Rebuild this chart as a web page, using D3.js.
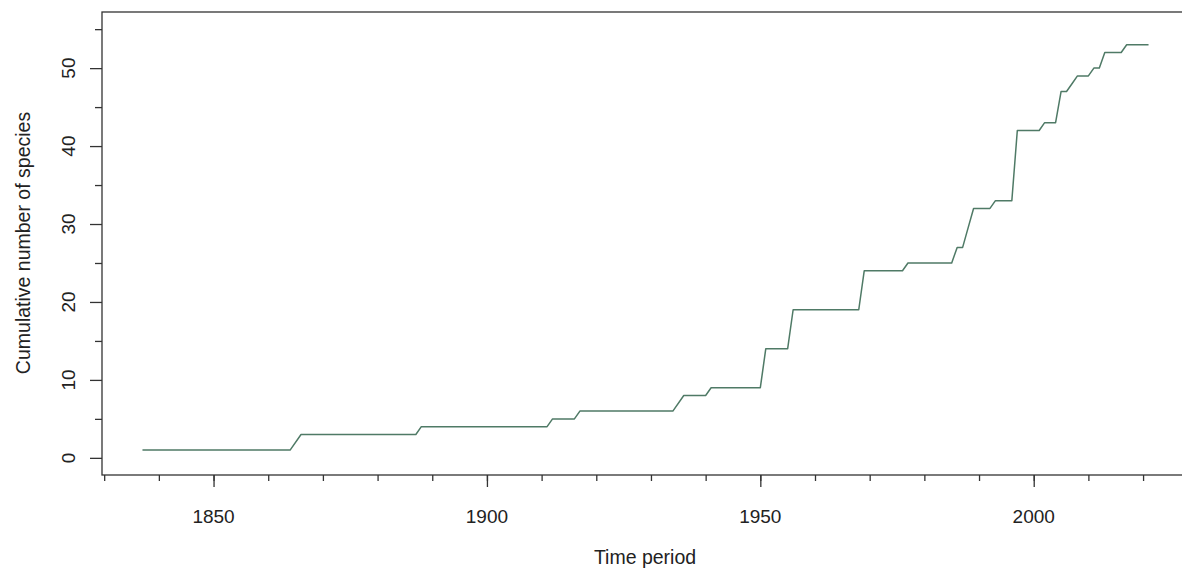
<!DOCTYPE html>
<html>
<head>
<meta charset="utf-8">
<script src="https://cdn.jsdelivr.net/npm/d3@7"></script>
<style>
  html, body { margin: 0; padding: 0; background: #fff; }
  svg { display: block; }
  text { font-family: "Liberation Sans", Arial, sans-serif; fill: #222; }
</style>
</head>
<body>
<svg id="chart" width="1182" height="569"></svg>
<script>
// Vertices of the cumulative curve (year, cumulative species)
const years  = [1837,1864,1866,1887,1888,1911,1912,1916,1917,1934,1936,1940,1941,1950,1951,1955,1956,1968,1969,1976,1977,1985,1986,1987,1988,1989,1992,1993,1996,1997,2001,2002,2004,2005,2006,2007,2008,2010,2011,2012,2013,2016,2017,2021];
const counts = [1,   1,   3,   3,   4,   4,   5,   5,   6,   6,   8,   8,   9,   9,   14,  14,  19,  19,  24,  24,  25,  25,  27,  27,  29.5,32,  32,  33,  33,  42,  42,  43,  43,  47,  47,  48,  49,  49,  50,  50,  52,  52,  53,  53];

const xMinorTicks = [1830,1840,1850,1860,1870,1880,1890,1900,1910,1920,1930,1940,1950,1960,1970,1980,1990,2000,2010,2020];
const xMajorTicks = [1850,1900,1950,2000];
const yMinorTicks = [5,15,25,35,45,55];
const yMajorTicks = [0,10,20,30,40,50];

const xTitle = "Time period";
const yTitle = "Cumulative number of species";

const svg = d3.select("#chart");
const plot = {left: 102, right: 1189, top: 12, bottom: 475};

const x = d3.scaleLinear().domain([1829.6, 2028.4]).range([plot.left, plot.right]);
const y = d3.scaleLinear().domain([-2.2, 57.2]).range([plot.bottom, plot.top]);

const axisColor = "#333";

// Box
svg.append("rect")
  .attr("x", plot.left).attr("y", plot.top)
  .attr("width", plot.right - plot.left).attr("height", plot.bottom - plot.top)
  .attr("fill", "none").attr("stroke", axisColor).attr("stroke-width", 1.3);

// X axis ticks
const gx = svg.append("g").attr("transform", `translate(0,${plot.bottom})`);
gx.call(d3.axisBottom(x).tickValues(xMinorTicks).tickSize(6).tickFormat(""));
gx.append("g").call(d3.axisBottom(x).tickValues(xMajorTicks).tickSize(12).tickFormat(""));
gx.selectAll(".domain").remove();
gx.selectAll("line").attr("stroke", axisColor).attr("stroke-width", 1.3);

svg.append("g").selectAll("text").data(xMajorTicks).join("text")
  .attr("x", d => x(d)).attr("y", 516)
  .attr("text-anchor", "middle").attr("dominant-baseline", "central")
  .attr("font-size", 19).text(d => d);

// Y axis ticks
const gy = svg.append("g").attr("transform", `translate(${plot.left},0)`);
gy.call(d3.axisLeft(y).tickValues(yMinorTicks).tickSize(7).tickFormat(""));
gy.append("g").call(d3.axisLeft(y).tickValues(yMajorTicks).tickSize(12).tickFormat(""));
gy.selectAll(".domain").remove();
gy.selectAll("line").attr("stroke", axisColor).attr("stroke-width", 1.3);

svg.append("g").selectAll("text").data(yMajorTicks).join("text")
  .attr("transform", d => `translate(68,${y(d)}) rotate(-90)`)
  .attr("text-anchor", "middle").attr("dominant-baseline", "central")
  .attr("font-size", 19).text(d => d);

// Titles
svg.append("text").attr("x", 645).attr("y", 557)
  .attr("text-anchor", "middle").attr("dominant-baseline", "central")
  .attr("font-size", 19.5).text(xTitle);
svg.append("text").attr("transform", `translate(23,243) rotate(-90)`)
  .attr("text-anchor", "middle").attr("dominant-baseline", "central")
  .attr("font-size", 19.5).text(yTitle);

// Line
const data = years.map((yr, i) => ({year: yr, value: counts[i]}));
svg.append("path").datum(data)
  .attr("fill", "none").attr("stroke", "#4f7a66").attr("stroke-width", 1.5)
  .attr("stroke-linejoin", "round")
  .attr("d", d3.line().x(d => x(d.year)).y(d => y(d.value)));
</script>
</body>
</html>
